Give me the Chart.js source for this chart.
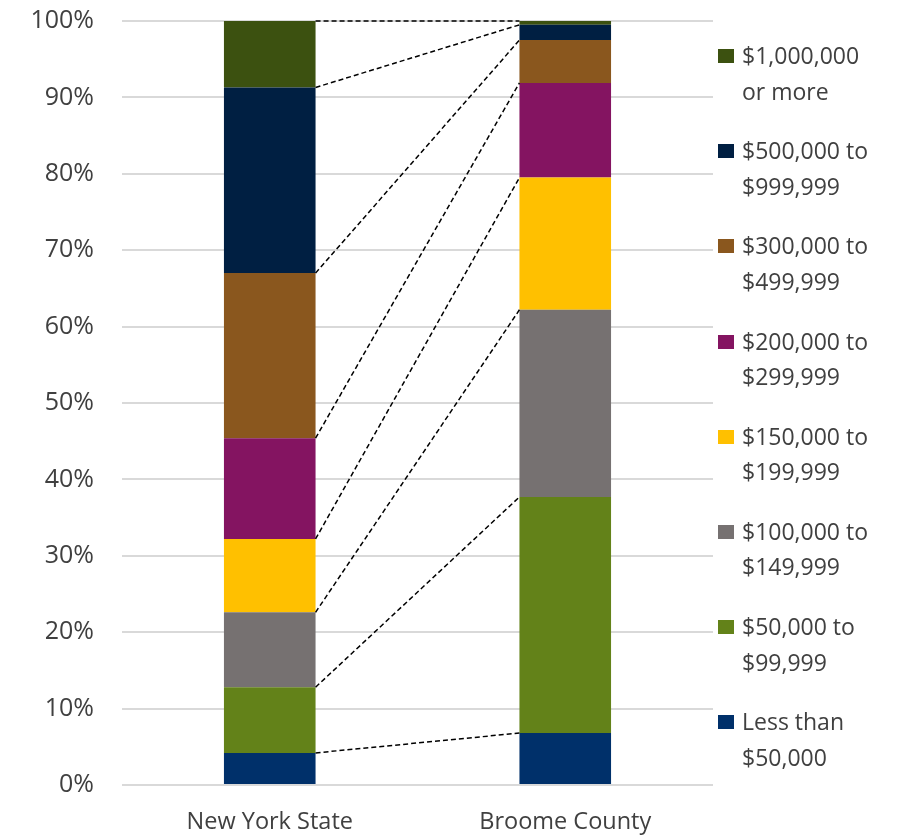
<!DOCTYPE html>
<html lang="en">
<head>
    <meta charset="UTF-8">
    <title>Home Value Distribution</title>
    <script src="https://cdn.jsdelivr.net/npm/chart.js"></script>
    <style>
        body {
            margin: 0;
            padding: 0;
            background: #fff;
            font-family: "Open Sans", sans-serif;
        }
        .wrap {
            position: relative;
            width: 900px;
            height: 838px;
        }
        #legend {
            position: absolute;
            left: 718px;
            top: 38px;
            margin: 0;
            padding: 0;
            list-style: none;
        }
        #legend li {
            position: relative;
            padding-left: 24px;
            height: 95.2px;
            font-size: 23px;
            line-height: 35.5px;
            color: #404040;
        }
        #legend li span {
            position: absolute;
            left: 0;
            top: 11px;
            width: 16px;
            height: 14px;
        }
    </style>
</head>
<body>
<div class="wrap">
    <canvas id="chart" width="900" height="838"></canvas>
    <ul id="legend"></ul>
</div>
<script>
    const places = ["New York State", "Broome County"];
    const ranges = [
        ["Less than", "$50,000"],
        ["$50,000 to", "$99,999"],
        ["$100,000 to", "$149,999"],
        ["$150,000 to", "$199,999"],
        ["$200,000 to", "$299,999"],
        ["$300,000 to", "$499,999"],
        ["$500,000 to", "$999,999"],
        ["$1,000,000", "or more"]
    ];
    // share of homes in each range, percent: [NYS, Broome]
    const lessThan50k = [4.2, 6.8];
    const from50k = [8.6, 30.9];
    const from100k = [9.8, 24.5];
    const from150k = [9.6, 17.3];
    const from200k = [13.2, 12.4];
    const from300k = [21.6, 5.6];
    const from500k = [24.3, 2.0];
    const over1m = [8.7, 0.5];
    const yTicks = [0, 10, 20, 30, 40, 50, 60, 70, 80, 90, 100];

    const seriesValues = [lessThan50k, from50k, from100k, from150k, from200k, from300k, from500k, over1m];
    const colors = ["#00306a", "#638219", "#767171", "#ffc000", "#841461", "#8a571e", "#001f42", "#3c5110"];

    // dashed connectors between the tops of each segment
    const connectors = {
        id: "connectors",
        afterDatasetsDraw(chart) {
            const ctx = chart.ctx;
            ctx.save();
            ctx.strokeStyle = "#000";
            ctx.lineWidth = 1.5;
            ctx.setLineDash([5, 3]);
            chart.data.datasets.forEach((ds, i) => {
                const bars = chart.getDatasetMeta(i).data;
                const a = bars[0], b = bars[1];
                ctx.beginPath();
                ctx.moveTo(a.x + a.width / 2, a.y);
                ctx.lineTo(b.x - b.width / 2, b.y);
                ctx.stroke();
            });
            ctx.restore();
        }
    };

    new Chart(document.getElementById("chart"), {
        type: "bar",
        data: {
            labels: places,
            datasets: seriesValues.map((vals, i) => ({
                label: ranges[i].join(" "),
                data: vals,
                backgroundColor: colors[i],
                borderWidth: 0,
                barPercentage: 0.62,
                categoryPercentage: 0.5
            }))
        },
        options: {
            responsive: false,
            animation: false,
            layout: {
                padding: { top: 21, right: 187, bottom: 0, left: 0 }
            },
            plugins: {
                legend: { display: false },
                tooltip: { enabled: false }
            },
            scales: {
                x: {
                    stacked: true,
                    grid: { display: false },
                    border: { display: false },
                    ticks: {
                        color: "#404040",
                        font: { family: "Open Sans", size: 23.5 },
                        padding: 15
                    },
                    afterFit(scale) { scale.height = 53; }
                },
                y: {
                    stacked: true,
                    min: 0,
                    max: 100,
                    afterBuildTicks(scale) {
                        scale.ticks = yTicks.map(v => ({ value: v }));
                    },
                    grid: {
                        color: "#d9d9d9",
                        lineWidth: 2,
                        drawTicks: false
                    },
                    border: { display: false },
                    ticks: {
                        color: "#404040",
                        font: { family: "Open Sans", size: 25 },
                        padding: 28,
                        callback: v => v + "%"
                    },
                    afterFit(scale) {
                        scale.width = 122;
                        scale.paddingTop = 0;
                        scale.paddingBottom = 0;
                    }
                }
            }
        },
        plugins: [connectors]
    });

    // legend, top entry first
    const legend = document.getElementById("legend");
    for (let i = ranges.length - 1; i >= 0; i--) {
        const li = document.createElement("li");
        li.innerHTML = '<span style="background:' + colors[i] + '"></span>' + ranges[i][0] + "<br>" + ranges[i][1];
        legend.appendChild(li);
    }
</script>
</body>
</html>
